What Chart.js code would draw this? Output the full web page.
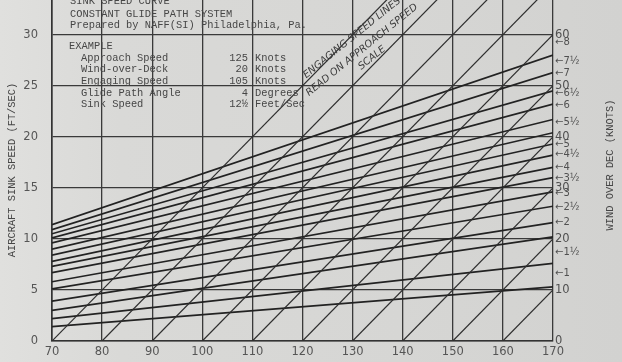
<!DOCTYPE html>
<html>
<head>
<meta charset="utf-8">
<script src="https://cdn.jsdelivr.net/npm/chart.js@4.4.1/dist/chart.umd.min.js"></script>
<style>
  html, body { margin: 0; padding: 0; }
  body { width: 622px; height: 362px; overflow: hidden;
         background: linear-gradient(to right, #e0e0de 0px, #d9d9d7 120px, #d6d6d4 400px, #d2d2d0 622px); }
  #wrap { position: relative; width: 622px; height: 362px; }
</style>
</head>
<body>
<div id="wrap"><canvas id="c" width="622" height="362"></canvas></div>
<script>
// ---- data ----
const approachTicks = [70, 80, 90, 100, 110, 120, 130, 140, 150, 160, 170];
const sinkTicks = [0, 5, 10, 15, 20, 25, 30];
const wodTicks = [0, 10, 20, 30, 40, 50, 60];

// engaging-speed diagonals: foot on the approach-speed axis and upper end point
const engageFoot = [70, 80, 90, 100, 110, 120, 130, 140, 150, 160];
const engageEndX = [138.4, 148.4, 158.4, 168.4, 170, 170, 170, 170, 170, 170];
const engageEndY = [34.2, 34.2, 34.2, 34.2, 30, 25, 20, 15, 10, 5];

// glide path angle lines: sink speed at 70 kt and at 170 kt
const glideLeft  = [1.4, 2.2, 3.0, 3.9, 5.1, 5.8, 6.7, 7.3, 7.8, 8.4, 9.0, 9.6, 10.1, 10.5, 10.9, 11.4];
const glideRight = [5.3, 7.6, 10.2, 11.6, 13.2, 14.6, 16.0, 17.0, 18.2, 19.3, 20.4, 21.7, 23.2, 24.5, 26.3, 28.0];

// glide angle markers on the right-hand scale (position in knots of wind over deck)
const angleNames = ['1', '1½', '2', '2½', '3', '3½', '4', '4½', '5', '5½', '6', '6½', '7', '7½', '8'];
const anglePos   = [13.2, 17.4, 23.2, 26.2, 29.0, 31.8, 34.0, 36.6, 38.6, 42.8, 46.2, 48.6, 52.4, 54.8, 58.4];

const titleLines = ['SINK SPEED CURVE', 'CONSTANT GLIDE PATH SYSTEM', 'Prepared by NAFF(SI) Philadelphia, Pa.'];
const exampleItems = ['Approach Speed', 'Wind-over-Deck', 'Engaging Speed', 'Glide Path Angle', 'Sink Speed'];
const exampleValues = ['125', '20', '105', '4', '12½'];
const exampleUnits = ['Knots', 'Knots', 'Knots', 'Degrees', 'Feet/Sec'];
const noteLines = ['ENGAGING SPEED LINES', 'READ ON APPROACH SPEED', 'SCALE'];

// ---- build datasets ----
const datasets = [];
engageFoot.forEach((x0, i) => {
  datasets.push({ data: [{x: x0, y: 0}, {x: engageEndX[i], y: engageEndY[i]}],
    showLine: true, borderColor: '#2e2e2e', borderWidth: 1.2, pointRadius: 0 });
});
glideLeft.forEach((yl, i) => {
  datasets.push({ data: [{x: 70, y: yl}, {x: 170, y: glideRight[i]}],
    showLine: true, borderColor: '#222', borderWidth: 1.7, pointRadius: 0 });
});

// right-hand scale: wind over deck numbers + glide angle arrows
const rightVals = [], rightLabels = [], rightIsAngle = [];
wodTicks.forEach(v => { rightVals.push(v); rightLabels.push(String(v)); rightIsAngle.push(false); });
anglePos.forEach((v, i) => { rightVals.push(v); rightLabels.push('←' + angleNames[i]); rightIsAngle.push(true); });

const mono = '"Liberation Mono", "DejaVu Sans Mono", monospace';
const noPad = s => { s.paddingTop = 0; s.paddingBottom = 0; s.paddingLeft = 0; s.paddingRight = 0; };

const textPlugin = {
  id: 'texts',
  afterDraw(chart) {
    const ctx = chart.ctx;
    ctx.save();
    ctx.fillStyle = '#464646';
    ctx.font = '10.4px ' + mono;
    ctx.textBaseline = 'middle';
    ctx.textAlign = 'left';
    const ty = [1.5, 14, 25.5];
    titleLines.forEach((t, i) => ctx.fillText(t, 70, ty[i]));
    ctx.fillText('EXAMPLE', 69, 46);
    exampleItems.forEach((t, i) => {
      const y = 58 + i * 11.6;
      ctx.textAlign = 'left';
      ctx.fillText(t, 81, y);
      ctx.textAlign = 'right';
      ctx.fillText(exampleValues[i], 248, y);
      ctx.textAlign = 'left';
      ctx.fillText(exampleUnits[i], 255, y);
    });
    // axis titles (read bottom to top)
    ctx.textAlign = 'center';
    ctx.save();
    ctx.translate(12, 170);
    ctx.rotate(-Math.PI / 2);
    ctx.fillText('AIRCRAFT SINK SPEED (FT/SEC)', 0, 0);
    ctx.restore();
    ctx.save();
    ctx.translate(610, 165);
    ctx.rotate(-Math.PI / 2);
    ctx.fillText('WIND OVER DEC (KNOTS)', 0, 0);
    ctx.restore();
    // handwritten note
    ctx.fillStyle = '#3a3a3a';
    ctx.font = 'italic 10px "DejaVu Sans", sans-serif';
    const nc = [[352, 38], [362, 50], [372, 58]];
    noteLines.forEach((t, i) => {
      ctx.save();
      ctx.translate(nc[i][0], nc[i][1]);
      ctx.rotate(-0.68);
      ctx.fillText(t, 0, 0);
      ctx.restore();
    });
    ctx.restore();
  }
};

new Chart(document.getElementById('c'), {
  type: 'scatter',
  data: { datasets },
  options: {
    responsive: false,
    animation: false,
    events: [],
    layout: { padding: 0 },
    plugins: { legend: { display: false }, tooltip: { enabled: false } },
    scales: {
      x: {
        type: 'linear', min: 70, max: 170,
        afterBuildTicks: s => { s.ticks = approachTicks.map(v => ({ value: v })); },
        afterFit: s => { s.height = 21; noPad(s); },
        grid: { color: '#3a3a3a', lineWidth: 1.3, drawTicks: false },
        border: { color: '#333', width: 1.6 },
        ticks: { autoSkip: false, maxRotation: 0, padding: 4, color: '#555',
                 font: { family: '"DejaVu Sans", sans-serif', size: 11.5 } }
      },
      y: {
        type: 'linear', position: 'left', min: 0, max: 33.4,
        afterBuildTicks: s => { s.ticks = sinkTicks.map(v => ({ value: v })); },
        afterFit: s => { s.width = 52; noPad(s); },
        grid: { color: '#3a3a3a', lineWidth: 1.3, drawTicks: false },
        border: { color: '#333', width: 1.6 },
        ticks: { autoSkip: false, padding: 14, color: '#555',
                 font: { family: '"DejaVu Sans", sans-serif', size: 11.5 } }
      },
      y2: {
        type: 'linear', position: 'right', min: 0, max: 66.8,
        afterBuildTicks: s => { s.ticks = rightVals.map(v => ({ value: v })); },
        afterFit: s => { s.width = 69; noPad(s); },
        grid: { display: false, drawTicks: false },
        border: { display: false },
        ticks: {
          autoSkip: false, padding: 2, color: '#505050',
          callback: (v, i) => rightLabels[i],
          font: c => rightIsAngle[c.index]
            ? { family: '"DejaVu Sans", sans-serif', size: 10 }
            : { family: '"DejaVu Sans", sans-serif', size: 11.5 }
        }
      }
    }
  },
  plugins: [textPlugin]
});
</script>
</body>
</html>
